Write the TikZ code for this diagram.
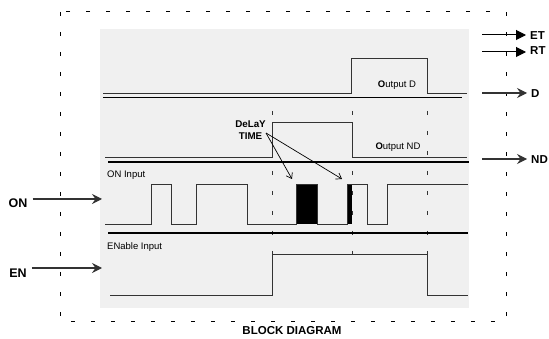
\documentclass[tikz,border=0pt]{standalone}
\usepackage{fontspec}
\setmainfont{Liberation Sans}
\usetikzlibrary{arrows.meta,calc}
\definecolor{panel}{HTML}{F0F0F0}
\definecolor{sig}{HTML}{333333}
\begin{document}
\begin{tikzpicture}[x=1pt,y=-1pt,
  sigline/.style={draw=sig,line width=0.9pt,line join=miter},
  sepline/.style={draw=black,line width=1.6pt},
  guide/.style={draw=sig,line width=1pt,dash pattern=on 4pt off 16pt},
  border/.style={draw=black,line width=1pt,dash pattern=on 4pt off 16pt},
  lbl/.style={font=\fontsize{9.5}{11}\selectfont,inner sep=0pt},
  io/.style={font=\fontsize{12.5}{14}\selectfont\bfseries,inner sep=0pt},
  oio/.style={font=\fontsize{11.5}{13}\selectfont\bfseries,inner sep=0pt,anchor=west},
  inarrow/.style={draw=sig,line width=1.1pt,-{Stealth[length=10pt,width=10pt,inset=3.5pt]}},
  tarrow/.style={draw=black,line width=1pt,-{Triangle[length=10pt,width=10pt]}},
  delayarrow/.style={draw=black,line width=0.7pt,-{Straight Barb[length=5pt,width=7pt]}}
]
\useasboundingbox (0,0) rectangle (549,339);
% panel and border
\fill[panel] (100,29) rectangle (469,308);
\draw[border] (60,12) rectangle (506,321);
% guides
\draw[guide] (272,111) -- (272,258);
\draw[guide] (352,111) -- (352,258);
\draw[guide] (427,111) -- (427,258);
% Output D
\draw[sigline] (103,93) -- (351,93) -- (351,58) -- (427,58) -- (427,93) -- (467,93);
\draw[sepline] (103,97.5) -- (462,97.5);
% Output ND
\draw[sigline] (105,157) -- (272,157) -- (272,122) -- (352,122) -- (352,157) -- (467,157);
\draw[sepline] (108,162) -- (469,162);
% ON input
\fill[black] (296,184) rectangle (317,224);
\fill[black] (347,184) rectangle (352,224);
\draw[sigline] (105,224) -- (151,224) -- (151,184) -- (171,184) -- (171,224) -- (196,224) -- (196,184) -- (247,184) -- (247,224) -- (296,224) -- (296,184) -- (317,184) -- (317,224) -- (347,224) -- (347,184) -- (367,184) -- (367,224) -- (387,224) -- (387,184) -- (468,184);
\draw[sepline] (108,233) -- (468,233);
% ENable input
\draw[sigline] (110,295) -- (272,295) -- (272,254) -- (427,254) -- (427,295) -- (468,295);
% labels
\node[lbl] (od) at (397,85) {\textbf{O}utput D};
\node[lbl] (ond) at (398,147) {\textbf{O}utput ND};
\node[lbl,anchor=west] (oni) at (107,175) {ON Input};
\node[lbl,anchor=west] (eni) at (107,247) {ENable Input};
\node[inner sep=0pt,align=center,font=\fontsize{9.8}{12}\selectfont\bfseries] (delay) at (250.5,130) {DeLaY\\TIME};
\coordinate (ds) at (266,133);
\coordinate (d1) at (292,179);
\coordinate (d2) at (342,179);
\draw[delayarrow] (ds) -- (d1);
\draw[delayarrow] (ds) -- (d2);
% inputs
\node[io] (on) at (18,203) {ON};
\coordinate (onin) at (102,199);
\draw[inarrow] ($(on.east |- onin)+(5,0)$) -- (onin);
\node[io] (en) at (18,273) {EN};
\coordinate (enin) at (102,268);
\draw[inarrow] ($(en.east |- enin)+(5,0)$) -- (enin);
% outputs
\node[oio] (et) at (530,36) {ET};
\node[oio] (rt) at (530,51) {RT};
\node[oio] (dd) at (531,94) {D};
\node[oio] (nd) at (531,160) {ND};
\coordinate (eto) at (482,35);
\coordinate (rto) at (482,52);
\coordinate (ddo) at (482,93);
\coordinate (ndo) at (482,159);
\draw[tarrow] (eto) -- ($(et.west |- eto)+(-4,0)$);
\draw[tarrow] (rto) -- ($(rt.west |- rto)+(-4,0)$);
\draw[inarrow] (ddo) -- ($(dd.west |- ddo)+(-4,0)$);
\draw[inarrow] (ndo) -- ($(nd.west |- ndo)+(-4,0)$);
% title
\node[font=\fontsize{11.5}{13}\selectfont\bfseries,inner sep=0pt] (title) at (292,331) {BLOCK DIAGRAM};
\end{tikzpicture}
\end{document}
